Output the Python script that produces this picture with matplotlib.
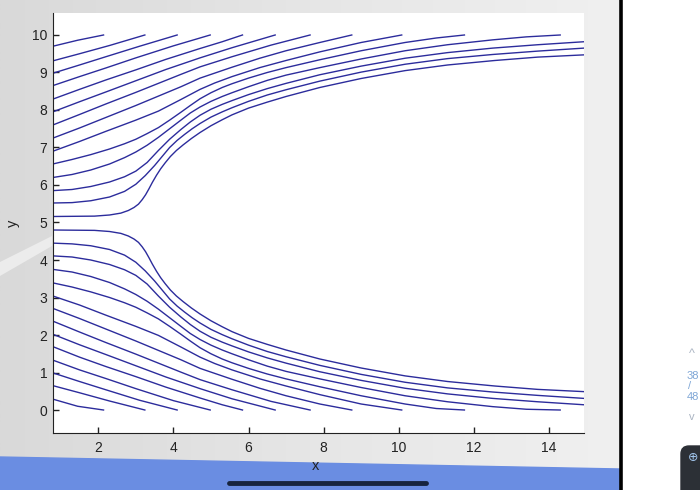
import matplotlib
matplotlib.use("Agg")
import matplotlib.pyplot as plt
from matplotlib.patches import Polygon, Rectangle, FancyBboxPatch
from matplotlib.colors import LinearSegmentedColormap
import numpy as np

# streamlines above the body as (x, y) points
upper_lines = [
    [(0.79, 9.70), (1.45, 9.86), (2.14, 10.0)],
    [(0.79, 9.31), (1.5, 9.50), (2.3, 9.72), (3.24, 10.0)],
    [(0.79, 8.98), (1.5, 9.20), (2.2, 9.42), (3.1, 9.70), (4.10, 10.0)],
    [(0.79, 8.65), (1.5, 8.89), (2.2, 9.12), (3.0, 9.39), (4.0, 9.71), (4.98, 10.0)],
    [(0.79, 8.29), (1.5, 8.55), (2.2, 8.80), (3.0, 9.07), (3.8, 9.35), (4.71, 9.64), (5.3, 9.82),
     (5.84, 10.0)],
    [(0.79, 7.95), (1.5, 8.22), (2.2, 8.48), (3.0, 8.78), (3.8, 9.08), (4.71, 9.39), (5.56, 9.66),
     (6.71, 10.0)],
    [(0.79, 7.60), (1.5, 7.88), (2.2, 8.16), (3.0, 8.47), (3.6, 8.71), (4.2, 8.95), (4.71, 9.15),
     (5.56, 9.42), (6.6, 9.73), (7.64, 10.0)],
    [(0.79, 7.25), (1.5, 7.52), (2.2, 7.80), (3.0, 8.12), (3.6, 8.37), (4.2, 8.62), (4.71, 8.85),
     (5.56, 9.14), (6.3, 9.38), (7.0, 9.58), (7.9, 9.80), (8.75, 10.0)],
    [(0.79, 6.90), (1.5, 7.16), (2.2, 7.43), (3.0, 7.73), (3.6, 7.97), (4.2, 8.28), (4.71, 8.55),
     (5.1, 8.72), (5.56, 8.89), (6.3, 9.13), (7.0, 9.32), (7.9, 9.55), (9.0, 9.80), (10.08, 10.0)],
    [(0.79, 6.56), (1.3, 6.68), (1.8, 6.81), (2.3, 6.96), (2.7, 7.10), (3.0, 7.22), (3.3, 7.37),
     (3.6, 7.53), (3.9, 7.73), (4.2, 7.94), (4.45, 8.12), (4.71, 8.30), (5.0, 8.46), (5.3, 8.60),
     (5.56, 8.70), (6.0, 8.85), (6.5, 9.00), (7.0, 9.13), (7.9, 9.34), (9.0, 9.58), (10.17, 9.80),
     (11.0, 9.92), (11.75, 10.0)],
    [(0.79, 6.20), (1.3, 6.28), (1.8, 6.40), (2.3, 6.56), (2.7, 6.73), (3.0, 6.88), (3.3, 7.06),
     (3.6, 7.27), (3.9, 7.50), (4.2, 7.73), (4.45, 7.92), (4.71, 8.08), (5.0, 8.23), (5.3, 8.36),
     (5.56, 8.46), (6.0, 8.62), (6.5, 8.79), (7.0, 8.93), (7.9, 9.13), (9.0, 9.36), (10.17, 9.58),
     (11.3, 9.74), (12.5, 9.87), (13.4, 9.95), (14.3, 10.0)],
    [(0.79, 5.85), (1.3, 5.88), (1.8, 5.96), (2.3, 6.08), (2.7, 6.22), (3.0, 6.37), (3.3, 6.60),
     (3.6, 6.92), (3.9, 7.22), (4.2, 7.48), (4.45, 7.68), (4.71, 7.86), (5.0, 8.02), (5.3, 8.15),
     (5.56, 8.25), (6.0, 8.41), (6.5, 8.57), (7.0, 8.71), (7.9, 8.94), (9.0, 9.17), (10.17, 9.38),
     (11.3, 9.53), (12.5, 9.65), (13.7, 9.74), (14.93, 9.82)],
    [(0.79, 5.52), (1.3, 5.53), (1.8, 5.58), (2.3, 5.68), (2.7, 5.83), (3.0, 6.02), (3.25, 6.25),
     (3.5, 6.52), (3.7, 6.76), (3.9, 7.00), (4.1, 7.19), (4.3, 7.35), (4.5, 7.50), (4.71, 7.64),
     (5.0, 7.81), (5.3, 7.95), (5.56, 8.06), (6.0, 8.23), (6.5, 8.40), (7.0, 8.54), (7.9, 8.77),
     (9.0, 9.01), (10.17, 9.22), (11.3, 9.37), (12.5, 9.48), (13.7, 9.57), (14.93, 9.65)],
    [(0.79, 5.16), (1.9, 5.17), (2.3, 5.20), (2.6, 5.25), (2.8, 5.32), (2.95, 5.40), (3.07, 5.49),
     (3.17, 5.61), (3.26, 5.74), (3.35, 5.90), (3.44, 6.07), (3.55, 6.26), (3.66, 6.43), (3.78, 6.59),
     (3.92, 6.76), (4.08, 6.92), (4.26, 7.07), (4.48, 7.24), (4.71, 7.40), (5.0, 7.58), (5.3, 7.74),
     (5.56, 7.87), (6.0, 8.05), (6.5, 8.21), (7.0, 8.36), (7.9, 8.60), (9.0, 8.84), (10.17, 9.05),
     (11.3, 9.20), (12.56, 9.32), (13.7, 9.41), (14.93, 9.47)],
]

# streamlines below the body
lower_lines = [
    [(0.79, 0.29), (1.45, 0.10), (2.14, 0.0)],
    [(0.79, 0.65), (1.5, 0.46), (2.3, 0.24), (3.24, 0.0)],
    [(0.79, 0.99), (1.5, 0.76), (2.2, 0.54), (3.1, 0.26), (4.10, 0.0)],
    [(0.79, 1.33), (1.5, 1.07), (2.2, 0.84), (3.0, 0.57), (4.0, 0.25), (4.98, 0.0)],
    [(0.79, 1.69), (1.5, 1.41), (2.2, 1.16), (3.0, 0.89), (3.8, 0.61), (4.71, 0.32), (5.3, 0.14),
     (5.84, 0.0)],
    [(0.79, 2.02), (1.5, 1.74), (2.2, 1.48), (3.0, 1.18), (3.8, 0.88), (4.71, 0.57), (5.56, 0.30),
     (6.71, 0.0)],
    [(0.79, 2.37), (1.5, 2.08), (2.2, 1.80), (3.0, 1.49), (3.6, 1.25), (4.2, 1.01), (4.71, 0.81),
     (5.56, 0.54), (6.6, 0.23), (7.64, 0.0)],
    [(0.79, 2.71), (1.5, 2.44), (2.2, 2.16), (3.0, 1.84), (3.6, 1.59), (4.2, 1.34), (4.71, 1.11),
     (5.56, 0.82), (6.3, 0.58), (7.0, 0.38), (7.9, 0.16), (8.75, 0.0)],
    [(0.79, 3.04), (1.5, 2.80), (2.2, 2.53), (3.0, 2.23), (3.6, 1.99), (4.2, 1.68), (4.71, 1.41),
     (5.1, 1.24), (5.56, 1.07), (6.3, 0.83), (7.0, 0.64), (7.9, 0.41), (9.0, 0.16), (10.08, 0.0)],
    [(0.79, 3.39), (1.3, 3.28), (1.8, 3.15), (2.3, 3.00), (2.7, 2.86), (3.0, 2.74), (3.3, 2.59),
     (3.6, 2.43), (3.9, 2.23), (4.2, 2.02), (4.45, 1.84), (4.71, 1.66), (5.0, 1.50), (5.3, 1.36),
     (5.56, 1.26), (6.0, 1.11), (6.5, 0.96), (7.0, 0.83), (7.9, 0.62), (9.0, 0.38), (10.17, 0.16),
     (11.0, 0.04), (11.75, 0.0)],
    [(0.79, 3.75), (1.3, 3.68), (1.8, 3.56), (2.3, 3.40), (2.7, 3.23), (3.0, 3.08), (3.3, 2.90),
     (3.6, 2.69), (3.9, 2.46), (4.2, 2.23), (4.45, 2.04), (4.71, 1.88), (5.0, 1.73), (5.3, 1.60),
     (5.56, 1.50), (6.0, 1.34), (6.5, 1.17), (7.0, 1.03), (7.9, 0.83), (9.0, 0.60), (10.17, 0.38),
     (11.3, 0.22), (12.5, 0.09), (13.4, 0.02), (14.3, 0.0)],
    [(0.79, 4.11), (1.3, 4.08), (1.8, 4.00), (2.3, 3.88), (2.7, 3.74), (3.0, 3.59), (3.3, 3.36),
     (3.6, 3.04), (3.9, 2.74), (4.2, 2.48), (4.45, 2.28), (4.71, 2.10), (5.0, 1.94), (5.3, 1.81),
     (5.56, 1.71), (6.0, 1.55), (6.5, 1.39), (7.0, 1.25), (7.9, 1.02), (9.0, 0.79), (10.17, 0.58),
     (11.3, 0.43), (12.5, 0.31), (13.7, 0.22), (14.93, 0.14)],
    [(0.79, 4.45), (1.3, 4.43), (1.8, 4.38), (2.3, 4.28), (2.7, 4.13), (3.0, 3.94), (3.25, 3.71),
     (3.5, 3.44), (3.7, 3.20), (3.9, 2.96), (4.1, 2.77), (4.3, 2.61), (4.5, 2.46), (4.71, 2.32),
     (5.0, 2.15), (5.3, 2.01), (5.56, 1.90), (6.0, 1.73), (6.5, 1.56), (7.0, 1.42), (7.9, 1.19),
     (9.0, 0.95), (10.17, 0.74), (11.3, 0.59), (12.5, 0.48), (13.7, 0.39), (14.93, 0.31)],
    [(0.79, 4.80), (1.9, 4.79), (2.3, 4.76), (2.6, 4.71), (2.8, 4.64), (2.95, 4.56), (3.07, 4.47),
     (3.17, 4.35), (3.26, 4.22), (3.35, 4.06), (3.44, 3.89), (3.55, 3.70), (3.66, 3.53), (3.78, 3.37),
     (3.92, 3.20), (4.08, 3.04), (4.26, 2.89), (4.48, 2.72), (4.71, 2.56), (5.0, 2.38), (5.3, 2.22),
     (5.56, 2.09), (6.0, 1.91), (6.5, 1.75), (7.0, 1.60), (7.9, 1.36), (9.0, 1.12), (10.17, 0.91),
     (11.3, 0.76), (12.56, 0.64), (13.7, 0.55), (14.93, 0.49)],
]

x_ticks = [2, 4, 6, 8, 10, 12, 14]
y_ticks = [0, 1, 2, 3, 4, 5, 6, 7, 8, 9, 10]

plt.rcParams['font.family'] = ['Liberation Sans', 'DejaVu Sans']

W, H = 700, 490
fig = plt.figure(figsize=(7, 4.9), dpi=100)

# screenshot surroundings (slide background, divider, bottom bar)
bg = fig.add_axes([0, 0, 1, 1], zorder=0)
bg.set_xlim(0, W)
bg.set_ylim(H, 0)
bg.axis('off')
cmap = LinearSegmentedColormap.from_list('bg', ['#d9d9d9', '#e6e6e6', '#f0f0f0'])
bg.imshow(np.linspace(0, 1, 256)[None, :], extent=[0, 620, H, 0], cmap=cmap, aspect='auto')
# faint light streak on the slide, lower left
bg.add_patch(Polygon([(0, 262), (52, 236), (52, 246), (0, 276)], color='#ececec', lw=0))
bg.add_patch(Rectangle((621, 0), 80, H, color='white'))
bg.plot([621, 621], [0, H], color='black', lw=2.6)
bg.add_patch(Polygon([(0, 457), (620, 469), (620, H), (0, H)], color='#6a8de2'))
bg.plot([229, 426], [482.5, 482.5], color='#17243d', lw=3.5, solid_capstyle='round')
bg.text(692, 354, '^', color='#aab4c2', fontsize=9, ha='center', va='center')
bg.text(687, 376, '38', color='#7ea6d6', fontsize=8, ha='left', va='center')
bg.text(688, 386, '/', color='#7ea6d6', fontsize=8, ha='left', va='center')
bg.text(687, 397, '48', color='#7ea6d6', fontsize=8, ha='left', va='center')
bg.text(692, 417, 'v', color='#aab4c2', fontsize=8, ha='center', va='center')
bg.add_patch(FancyBboxPatch((681, 446), 40, 60, boxstyle='round,pad=0,rounding_size=8',
                            color='#2c3036'))
bg.text(693, 458, '⊕', color='#9fc3ea', fontsize=9, ha='center', va='center')

# chart
ax = fig.add_axes([52.7 / W, 1 - 432.7 / H, (584 - 52.7) / W, (432.7 - 13.5) / H], zorder=2)
ax.set_facecolor('white')
for line in upper_lines + lower_lines:
    xs, ys = zip(*line)
    ax.plot(xs, ys, color='#2c2c9c', lw=1.0)

ax.set_xlim(0.786, 14.934)
ax.set_ylim(-0.605, 10.573)
ax.set_xticks(x_ticks)
ax.set_yticks(y_ticks)
ax.spines['top'].set_visible(False)
ax.spines['right'].set_visible(False)
ax.spines['left'].set_color('#222222')
ax.spines['bottom'].set_color('#222222')
ax.tick_params(direction='in', length=4, width=1, labelsize=10, colors='#222222', pad=4)
ax.tick_params(axis='x', pad=6)

fig.text(316 / W, 1 - 466 / H, 'x', fontsize=10.5, ha='center', va='center', color='#222222')
fig.text(13 / W, 1 - 223 / H, 'y', fontsize=10.5, ha='center', va='center', rotation=90,
         color='#222222')

fig.savefig('out.png', dpi=100)
